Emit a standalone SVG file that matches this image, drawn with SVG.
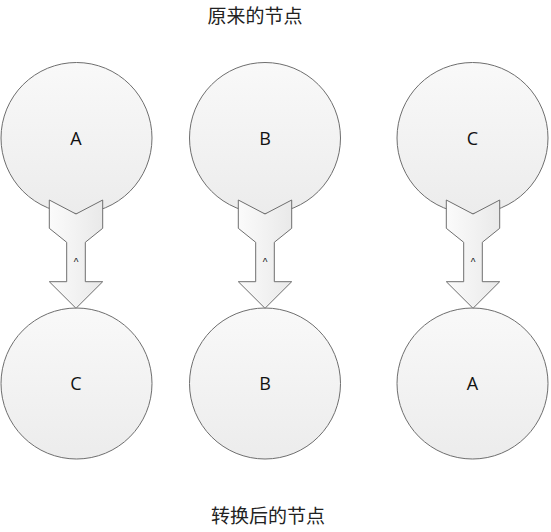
<svg xmlns="http://www.w3.org/2000/svg" width="551" height="532" viewBox="0 0 551 532">
<defs>
<linearGradient id="gc" x1="0" y1="0" x2="0" y2="1">
<stop offset="0" stop-color="#f9f9f9"/>
<stop offset="1" stop-color="#ececec"/>
</linearGradient>
<linearGradient id="ga" x1="0" y1="0" x2="1" y2="0">
<stop offset="0" stop-color="#fbfbfb"/>
<stop offset="1" stop-color="#e9e9e9"/>
</linearGradient>
<path id="arrow" d="M-26.7,0 L0,14 L26.7,0 L26.7,28.3 L9.3,42.3 L9.3,81.7 L26.7,81.7 L0,108.3 L-26.7,81.7 L-9.3,81.7 L-9.3,42.3 L-26.7,28.3 Z"/>
</defs>
<style>
.node circle{fill:url(#gc);stroke:#6e6e6e;stroke-width:1}
.node text{font-family:"Open Sans","Liberation Sans",sans-serif;font-size:18px;fill:#111;text-anchor:middle}
.conn use{fill:url(#ga);stroke:#6e6e6e;stroke-width:1}
.conn text{font-family:"Liberation Sans",sans-serif;font-size:10px;fill:#111;text-anchor:middle}
.title{font-family:"Noto Sans CJK SC",sans-serif;font-size:19px;fill:#222;text-anchor:middle}
</style>
<rect width="551" height="532" fill="#ffffff"/>
<text class="title" x="255" y="23">原来的节点</text>
<text class="title" x="268" y="523">转换后的节点</text>
<g id="node-top-A" class="node"><circle cx="76.5" cy="138" r="75.5"/><text x="76" y="144.5">A</text></g>
<g id="node-top-B" class="node"><circle cx="265" cy="138" r="75.5"/><text x="265" y="144.5">B</text></g>
<g id="node-top-C" class="node"><circle cx="472.5" cy="138" r="75.5"/><text x="472.5" y="144.5">C</text></g>
<g id="node-bottom-C" class="node"><circle cx="76.5" cy="383.5" r="75.5"/><text x="76" y="390">C</text></g>
<g id="node-bottom-B" class="node"><circle cx="265" cy="383.5" r="75.5"/><text x="265" y="390">B</text></g>
<g id="node-bottom-A" class="node"><circle cx="472.5" cy="383.5" r="75.5"/><text x="472.5" y="390">A</text></g>
<g id="connectors" class="conn">
<use href="#arrow" x="76" y="200"/>
<text x="76" y="266">^</text>
<use href="#arrow" x="265" y="200"/>
<text x="265" y="266">^</text>
<use href="#arrow" x="473" y="200"/>
<text x="473" y="266">^</text>
</g>
</svg>
